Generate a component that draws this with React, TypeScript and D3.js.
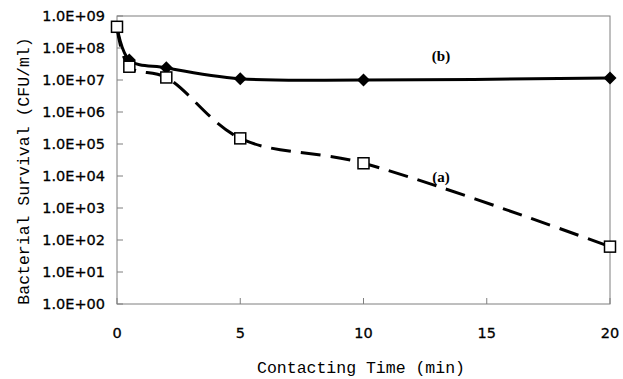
import React from "react";
import * as d3 from "d3";

const timesA = [0, 0.5, 2, 5, 10, 20];
const valuesA = [4.6e8, 2.6e7, 1.2e7, 1.5e5, 2.5e4, 62];
const timesB = [0, 0.5, 2, 5, 10, 20];
const valuesB = [4.6e8, 4.2e7, 2.4e7, 1.1e7, 1.0e7, 1.15e7];
const xTicks = [0, 5, 10, 15, 20];
const yTicks = [1e0, 1e1, 1e2, 1e3, 1e4, 1e5, 1e6, 1e7, 1e8, 1e9];
const yTickLabels = ["1.0E+00", "1.0E+01", "1.0E+02", "1.0E+03", "1.0E+04", "1.0E+05", "1.0E+06", "1.0E+07", "1.0E+08", "1.0E+09"];
const labelA = "(a)";
const labelB = "(b)";
const xTitle = "Contacting Time (min)";
const yTitle = "Bacterial Survival (CFU/ml)";

export default function App() {
  const W = 623, H = 379;
  const left = 117, right = 610, top = 16, bottom = 304;
  const x = d3.scaleLinear().domain([0, 20]).range([left, right]);
  const y = d3.scaleLog().domain([1, 1e9]).range([bottom, top]);
  const line = d3.line<[number, number]>()
    .x(d => x(d[0])).y(d => y(d[1]))
    .curve(d3.curveCatmullRom.alpha(0.5));
  const ptsA: [number, number][] = timesA.map((t, i) => [t, valuesA[i]]);
  const ptsB: [number, number][] = timesB.map((t, i) => [t, valuesB[i]]);
  const axisColor = "#7f7f7f";
  const tickFont = "Verdana, 'DejaVu Sans', sans-serif";
  const monoFont = "'Liberation Mono', 'DejaVu Sans Mono', monospace";
  return (
    <svg width={W} height={H} style={{ position: "absolute", left: 0, top: 0, background: "#fff" }}>
      <rect x={0} y={0} width={W} height={H} fill="#fff" />
      <rect x={left} y={top} width={right - left} height={bottom - top} fill="none" stroke={axisColor} strokeWidth={1} />
      {yTicks.map((v, i) => (
        <g key={"y" + i}>
          <line x1={left} x2={left + 6} y1={y(v)} y2={y(v)} stroke={axisColor} />
          <text x={105} y={y(v)} dy="0.36em" textAnchor="end" fontFamily={tickFont} fontSize={14.5} fill="#000" stroke="#000" strokeWidth={0.3}>
            {yTickLabels[i]}
          </text>
        </g>
      ))}
      {xTicks.map((t, i) => (
        <g key={"x" + i}>
          <line x1={x(t)} x2={x(t)} y1={bottom} y2={bottom - 6} stroke={axisColor} />
          <text x={x(t)} y={333} dy="0.36em" textAnchor="middle" fontFamily={tickFont} fontSize={14.5} fill="#000" stroke="#000" strokeWidth={0.3}>
            {t}
          </text>
        </g>
      ))}
      <path d={line(ptsA) || ""} fill="none" stroke="#000" strokeWidth={3} strokeDasharray="20 10" />
      <path d={line(ptsB) || ""} fill="none" stroke="#000" strokeWidth={3} />
      {ptsB.slice(1).map((p, i) => (
        <path key={"d" + i} d={`M${x(p[0])},${y(p[1]) - 6.5}L${x(p[0]) + 6.5},${y(p[1])}L${x(p[0])},${y(p[1]) + 6.5}L${x(p[0]) - 6.5},${y(p[1])}Z`} fill="#000" />
      ))}
      {ptsA.map((p, i) => (
        <rect key={"s" + i} x={x(p[0]) - 5.5} y={y(p[1]) - 5.5} width={11} height={11} fill="#fff" stroke="#000" strokeWidth={1.5} />
      ))}
      <text x={441} y={56} textAnchor="middle" dy="0.35em" fontFamily="'Liberation Serif', 'DejaVu Serif', serif" fontWeight="bold" fontSize={15}>{labelB}</text>
      <text x={441} y={177} textAnchor="middle" dy="0.35em" fontFamily="'Liberation Serif', 'DejaVu Serif', serif" fontWeight="bold" fontSize={15}>{labelA}</text>
      <text x={361} y={367} textAnchor="middle" dy="0.35em" fontFamily={monoFont} fontSize={16.5} fill="#000">{xTitle}</text>
      <text transform={`translate(23,171) rotate(-90)`} textAnchor="middle" dy="0.35em" fontFamily={monoFont} fontSize={16.5} fill="#000">{yTitle}</text>
    </svg>
  );
}
